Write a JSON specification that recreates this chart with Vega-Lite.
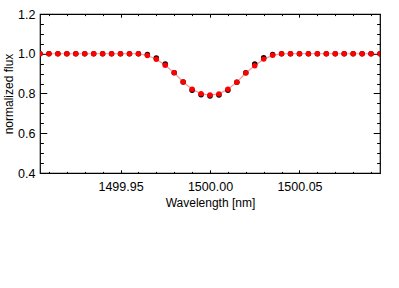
{
  "$schema": "https://vega.github.io/schema/vega-lite/v6.json",
  "width": 340,
  "height": 159,
  "padding": {"left": 40, "top": 14, "right": 19, "bottom": 115},
  "autosize": {"type": "none"},
  "background": "white",
  "config": {
    "view": {"stroke": "black", "strokeWidth": 1.2},
    "axis": {
      "labelFont": "Liberation Sans",
      "titleFont": "Liberation Sans",
      "labelFontSize": 12.5,
      "titleFontSize": 12,
      "titleFontWeight": "normal",
      "labelColor": "black",
      "titleColor": "black",
      "tickColor": "black",
      "domain": false,
      "grid": false,
      "tickWidth": 1
    }
  },
  "data": {
    "values": [
      {"wavelength": 1499.905, "data": 1.0, "model": 1.0},
      {"wavelength": 1499.910, "data": 1.0, "model": 1.0},
      {"wavelength": 1499.915, "data": 1.0, "model": 1.0},
      {"wavelength": 1499.920, "data": 1.0, "model": 1.0},
      {"wavelength": 1499.925, "data": 1.0, "model": 1.0},
      {"wavelength": 1499.930, "data": 1.0, "model": 1.0},
      {"wavelength": 1499.935, "data": 1.0, "model": 1.0},
      {"wavelength": 1499.940, "data": 1.0, "model": 1.0},
      {"wavelength": 1499.945, "data": 1.0, "model": 1.0},
      {"wavelength": 1499.950, "data": 1.0, "model": 1.0},
      {"wavelength": 1499.955, "data": 1.0, "model": 1.0},
      {"wavelength": 1499.960, "data": 1.0, "model": 1.0},
      {"wavelength": 1499.965, "data": 0.996, "model": 0.991},
      {"wavelength": 1499.970, "data": 0.979, "model": 0.972},
      {"wavelength": 1499.975, "data": 0.949, "model": 0.942},
      {"wavelength": 1499.980, "data": 0.905, "model": 0.904},
      {"wavelength": 1499.985, "data": 0.858, "model": 0.858},
      {"wavelength": 1499.990, "data": 0.816, "model": 0.822},
      {"wavelength": 1499.995, "data": 0.794, "model": 0.799},
      {"wavelength": 1500.000, "data": 0.787, "model": 0.792},
      {"wavelength": 1500.005, "data": 0.793, "model": 0.798},
      {"wavelength": 1500.010, "data": 0.816, "model": 0.821},
      {"wavelength": 1500.015, "data": 0.857, "model": 0.857},
      {"wavelength": 1500.020, "data": 0.905, "model": 0.903},
      {"wavelength": 1500.025, "data": 0.949, "model": 0.940},
      {"wavelength": 1500.030, "data": 0.980, "model": 0.973},
      {"wavelength": 1500.035, "data": 0.996, "model": 0.992},
      {"wavelength": 1500.040, "data": 1.0, "model": 1.0},
      {"wavelength": 1500.045, "data": 1.0, "model": 1.0},
      {"wavelength": 1500.050, "data": 1.0, "model": 1.0},
      {"wavelength": 1500.055, "data": 1.0, "model": 1.0},
      {"wavelength": 1500.060, "data": 1.0, "model": 1.0},
      {"wavelength": 1500.065, "data": 1.0, "model": 1.0},
      {"wavelength": 1500.070, "data": 1.0, "model": 1.0},
      {"wavelength": 1500.075, "data": 1.0, "model": 1.0},
      {"wavelength": 1500.080, "data": 1.0, "model": 1.0},
      {"wavelength": 1500.085, "data": 1.0, "model": 1.0},
      {"wavelength": 1500.090, "data": 1.0, "model": 1.0},
      {"wavelength": 1500.095, "data": 1.0, "model": 1.0}
    ]
  },
  "resolve": {"axis": {"x": "independent", "y": "independent"}},
  "layer": [
    {
      "mark": {"type": "line", "color": "#f29a9a", "strokeWidth": 1.2, "clip": true},
      "encoding": {
        "x": {
          "field": "wavelength", "type": "quantitative",
          "scale": {"domain": [1499.905, 1500.095], "nice": false, "zero": false},
          "axis": {
            "orient": "bottom", "title": "Wavelength [nm]",
            "values": [1499.95, 1500.0, 1500.05],
            "format": ".2f", "tickSize": -3.2, "labelPadding": 10.5,
            "labelFlush": false,
            "titleY": 33, "titleBaseline": "alphabetic", "titlePadding": 0
          }
        },
        "y": {
          "field": "model", "type": "quantitative",
          "scale": {"domain": [0.4, 1.2], "nice": false, "zero": false},
          "axis": {
            "orient": "left", "title": "normalized flux",
            "values": [0.4, 0.6, 0.8, 1.0, 1.2],
            "format": ".1f", "tickSize": -6.8, "labelPadding": 11.8,
            "labelFlush": false,
            "titleX": -28, "titleY": 79.5, "titleAngle": -90,
            "titleBaseline": "alphabetic", "titleAlign": "center"
          }
        }
      }
    },
    {
      "mark": {"type": "point", "shape": "circle", "filled": true, "color": "black", "size": 30, "opacity": 1, "clip": true},
      "encoding": {
        "x": {
          "field": "wavelength", "type": "quantitative",
          "axis": {
            "orient": "bottom", "title": null, "labels": false,
            "values": [1499.91, 1499.92, 1499.93, 1499.94, 1499.96, 1499.97, 1499.98, 1499.99, 1500.01, 1500.02, 1500.03, 1500.04, 1500.06, 1500.07, 1500.08, 1500.09],
            "tickSize": -1.6
          }
        },
        "y": {
          "field": "data", "type": "quantitative",
          "axis": {
            "orient": "left", "title": null, "labels": false,
            "values": [0.45, 0.5, 0.55, 0.65, 0.7, 0.75, 0.85, 0.9, 0.95, 1.05, 1.1, 1.15],
            "tickSize": -3.4
          }
        }
      }
    },
    {
      "mark": {"type": "point", "shape": "circle", "filled": true, "color": "#ff0000", "size": 30, "opacity": 1, "clip": true},
      "encoding": {
        "x": {
          "field": "wavelength", "type": "quantitative",
          "axis": {
            "orient": "top", "title": null, "labels": false,
            "values": [1499.95, 1500.0, 1500.05],
            "tickSize": -3.2
          }
        },
        "y": {
          "field": "model", "type": "quantitative",
          "axis": {
            "orient": "right", "title": null, "labels": false,
            "values": [0.4, 0.6, 0.8, 1.0, 1.2],
            "tickSize": -6.8
          }
        }
      }
    },
    {
      "mark": {"type": "point", "shape": "circle", "filled": true, "color": "#ff0000", "size": 30, "opacity": 0},
      "encoding": {
        "x": {
          "field": "wavelength", "type": "quantitative",
          "axis": {
            "orient": "top", "title": null, "labels": false,
            "values": [1499.91, 1499.92, 1499.93, 1499.94, 1499.96, 1499.97, 1499.98, 1499.99, 1500.01, 1500.02, 1500.03, 1500.04, 1500.06, 1500.07, 1500.08, 1500.09],
            "tickSize": -1.6
          }
        },
        "y": {
          "field": "model", "type": "quantitative",
          "axis": {
            "orient": "right", "title": null, "labels": false,
            "values": [0.45, 0.5, 0.55, 0.65, 0.7, 0.75, 0.85, 0.9, 0.95, 1.05, 1.1, 1.15],
            "tickSize": -3.4
          }
        }
      }
    }
  ]
}
